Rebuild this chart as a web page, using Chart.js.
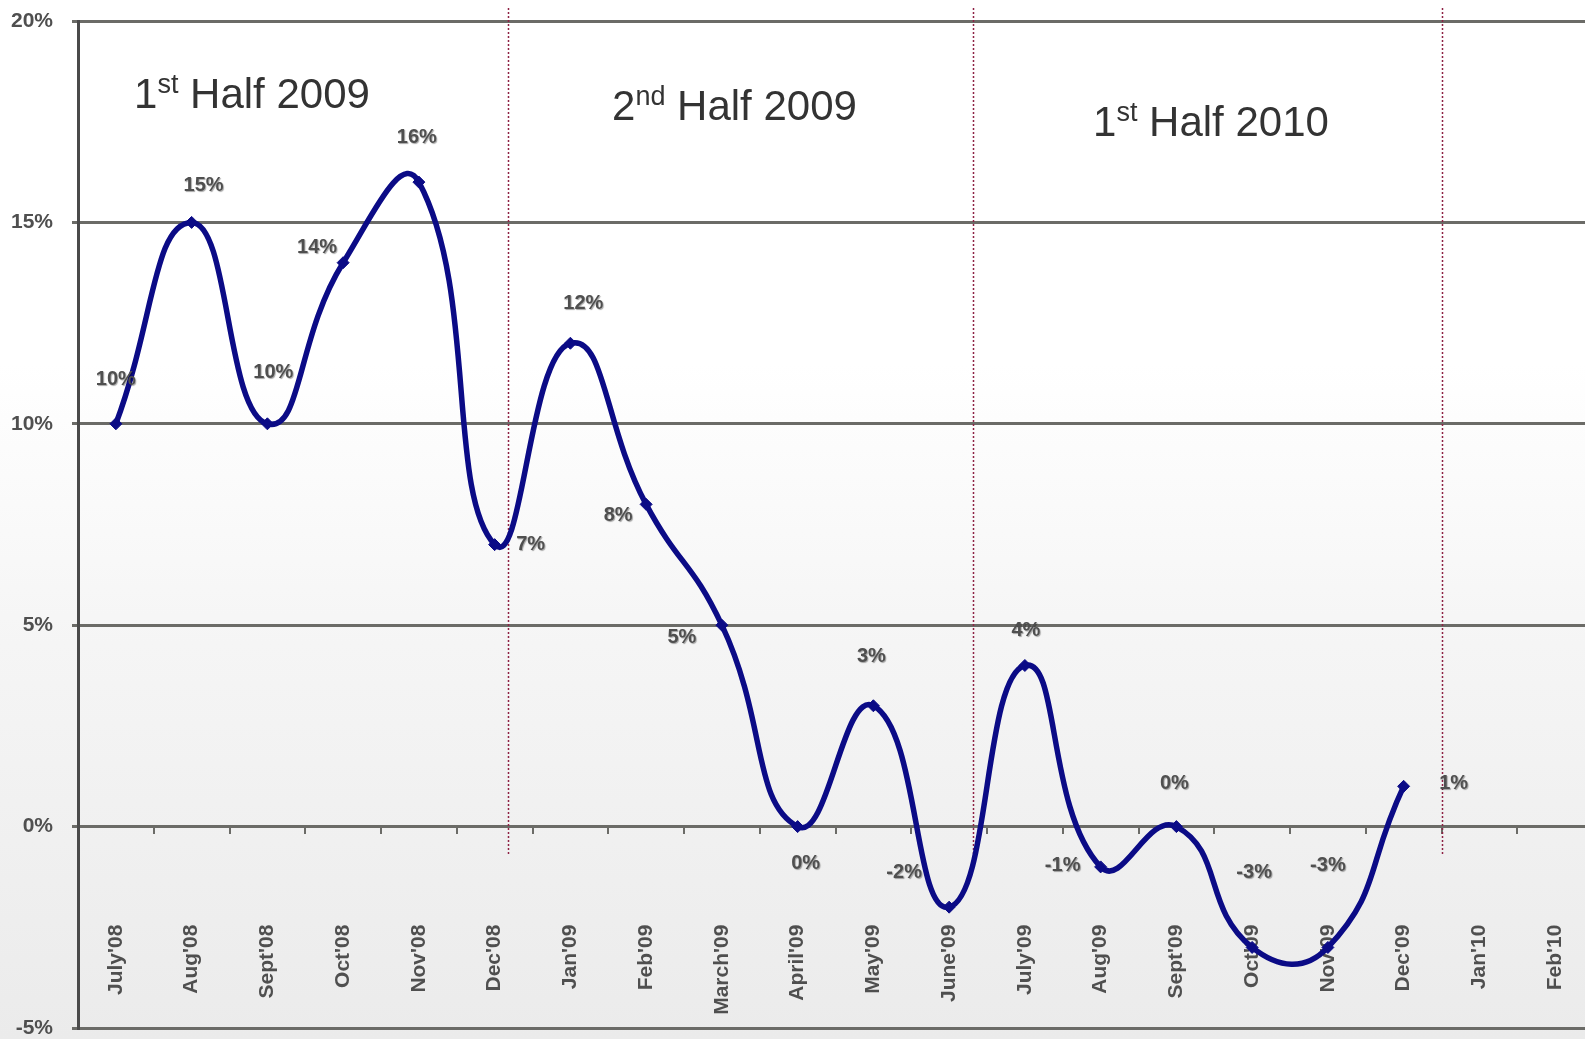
<!DOCTYPE html>
<html>
<head>
<meta charset="utf-8">
<script src="https://cdn.jsdelivr.net/npm/chart.js@4.4.1/dist/chart.umd.min.js"></script>
<style>
  html, body {
    margin: 0;
    padding: 0;
    overflow: hidden;
  }
  #wrap {
    position: relative;
    width: 1585px;
    height: 1039px;
    overflow: hidden;
    background: linear-gradient(to bottom, #ffffff 0%, #ffffff 35%, #f5f5f5 62%, #ebebeb 100%);
  }
  canvas { display: block; position: absolute; left: 0; top: 0; }
</style>
</head>
<body>
<div id="wrap"><canvas id="growthChart" width="1600" height="1039"></canvas></div>
<script>
// month labels along the bottom
const months = [
  "July'08", "Aug'08", "Sept'08", "Oct'08", "Nov'08", "Dec'08",
  "Jan'09", "Feb'09", "March'09", "April'09", "May'09", "June'09",
  "July'09", "Aug'09", "Sept'09", "Oct'09", "Nov'09", "Dec'09",
  "Jan'10", "Feb'10",
];
// growth in % (no values yet for Jan'10 / Feb'10)
const growth = [10, 15, 10, 14, 16, 7, 12, 8, 5, 0, 3, -2, 4, -1, 0, -3, -3, 1];
const yTicks = [-5, 0, 5, 10, 15, 20];

// period captions: number, superscript, rest
const periodNums = ["1", "2", "1"];
const periodSups = ["st", "nd", "st"];
const periodRest = [" Half 2009", " Half 2009", " Half 2010"];

const LINE = "#0b0b86";
const TEXT = "#4f4f4f";
const GRID = "#6b6b67";
const FONT = "'Liberation Sans', Arial, sans-serif";

// where each value label sits relative to its point (px)
const labelOffsets = [
  [0, -44], [12, -37], [6, -51], [-26, -15], [-2, -45], [36, 0],
  [13, -40], [-28, 11], [-40, 12], [8, 37], [-2, -49], [-45, -35],
  [1, -35], [-38, -1], [-2, -43], [2, -75], [0, -82], [50, -3],
];

const valueLabels = {
  id: "valueLabels",
  afterDatasetsDraw(chart) {
    const { ctx } = chart;
    const meta = chart.getDatasetMeta(0);
    ctx.save();
    ctx.font = "bold 20px " + FONT;
    ctx.textAlign = "center";
    ctx.textBaseline = "middle";
    ctx.shadowColor = "rgba(0,0,0,0.35)";
    ctx.shadowOffsetX = 1;
    ctx.shadowOffsetY = 1;
    ctx.shadowBlur = 1;
    ctx.fillStyle = TEXT;
    meta.data.forEach((pt, i) => {
      const v = growth[i];
      if (v === null || v === undefined) return;
      const off = labelOffsets[i] || [0, -30];
      ctx.fillText(v + "%", pt.x + off[0], pt.y + off[1]);
    });
    ctx.restore();
  },
};

// dotted dividers between the half-year periods + the captions
const periods = {
  id: "periods",
  beforeDatasetsDraw(chart, args, opts) {
    const { ctx, scales } = chart;
    const x = scales.x;
    const y = scales.y;
    ctx.save();
    ctx.strokeStyle = "#8e2244";
    ctx.lineWidth = 1.5;
    ctx.setLineDash([2, 2]);
    opts.dividers.forEach((d) => {
      const px = Math.round(x.getPixelForValue(d)) + 0.5;
      ctx.beginPath();
      ctx.moveTo(px, chart.chartArea.top - 13);
      ctx.lineTo(px, y.getPixelForValue(-0.7));
      ctx.stroke();
    });
    ctx.setLineDash([]);

    ctx.fillStyle = "#333333";
    ctx.textBaseline = "alphabetic";
    ctx.textAlign = "left";
    opts.captionAt.forEach((c, i) => {
      let px = x.getPixelForValue(c[0]);
      const py = y.getPixelForValue(c[1]);
      ctx.font = "42px " + FONT;
      ctx.fillText(periodNums[i], px, py);
      px += ctx.measureText(periodNums[i]).width;
      ctx.font = "27px " + FONT;
      ctx.fillText(periodSups[i], px, py - 15);
      px += ctx.measureText(periodSups[i]).width;
      ctx.font = "42px " + FONT;
      ctx.fillText(periodRest[i], px, py);
    });
    ctx.restore();
  },
};

const ctx = document.getElementById("growthChart").getContext("2d");

const config = {
  type: "line",
  data: {
    labels: months,
    datasets: [
      {
        data: growth,
        borderColor: LINE,
        backgroundColor: LINE,
        borderWidth: 5.5,
        tension: 0.5,
        pointStyle: "rectRot",
        pointRadius: 6,
        pointBorderWidth: 1,
        pointBackgroundColor: LINE,
        pointBorderColor: LINE,
        fill: false,
      },
    ],
  },
  options: {
    responsive: false,
    devicePixelRatio: 1,
    animation: false,
    layout: {
      padding: { top: 21, bottom: 11, left: 0, right: 7 },
    },
    plugins: {
      legend: { display: false },
      tooltip: { enabled: false },
      periods: {
        dividers: [5.17, 11.32, 17.51],
        captionAt: [[0.24, 17.84], [6.55, 17.54], [12.9, 17.14]],
      },
    },
    scales: {
      x: {
        position: { y: 0 },
        offset: true,
        afterFit: (s) => {
          // labels hang inside the plot, they need no extra room
          s.paddingLeft = 0;
          s.paddingRight = 0;
        },
        grid: {
          display: true,
          offset: true,
          drawOnChartArea: false,
          drawTicks: true,
          tickLength: 6,
          color: GRID,
          lineWidth: 2,
        },
        border: { display: true, color: GRID, width: 3 },
        ticks: {
          autoSkip: false,
          minRotation: 90,
          maxRotation: 90,
          padding: 92,
          color: TEXT,
          font: { family: FONT, size: 21, weight: "bold" },
        },
      },
      y: {
        position: "left",
        min: -5,
        max: 20,
        afterFit: (s) => {
          s.width = 78;
          s.paddingTop = 0;
          s.paddingBottom = 0;
        },
        afterBuildTicks: (s) => {
          s.ticks = yTicks.map((v) => ({ value: v }));
        },
        grid: {
          color: GRID,
          lineWidth: 3,
          tickLength: 6,
        },
        border: { display: true, color: "#4a4a4a", width: 3 },
        ticks: {
          padding: 19,
          color: TEXT,
          font: { family: FONT, size: 21, weight: "bold" },
          callback: (v) => v + "%",
        },
      },
    },
  },
  plugins: [periods, valueLabels],
};

new Chart(ctx, config);
</script>
</body>
</html>
